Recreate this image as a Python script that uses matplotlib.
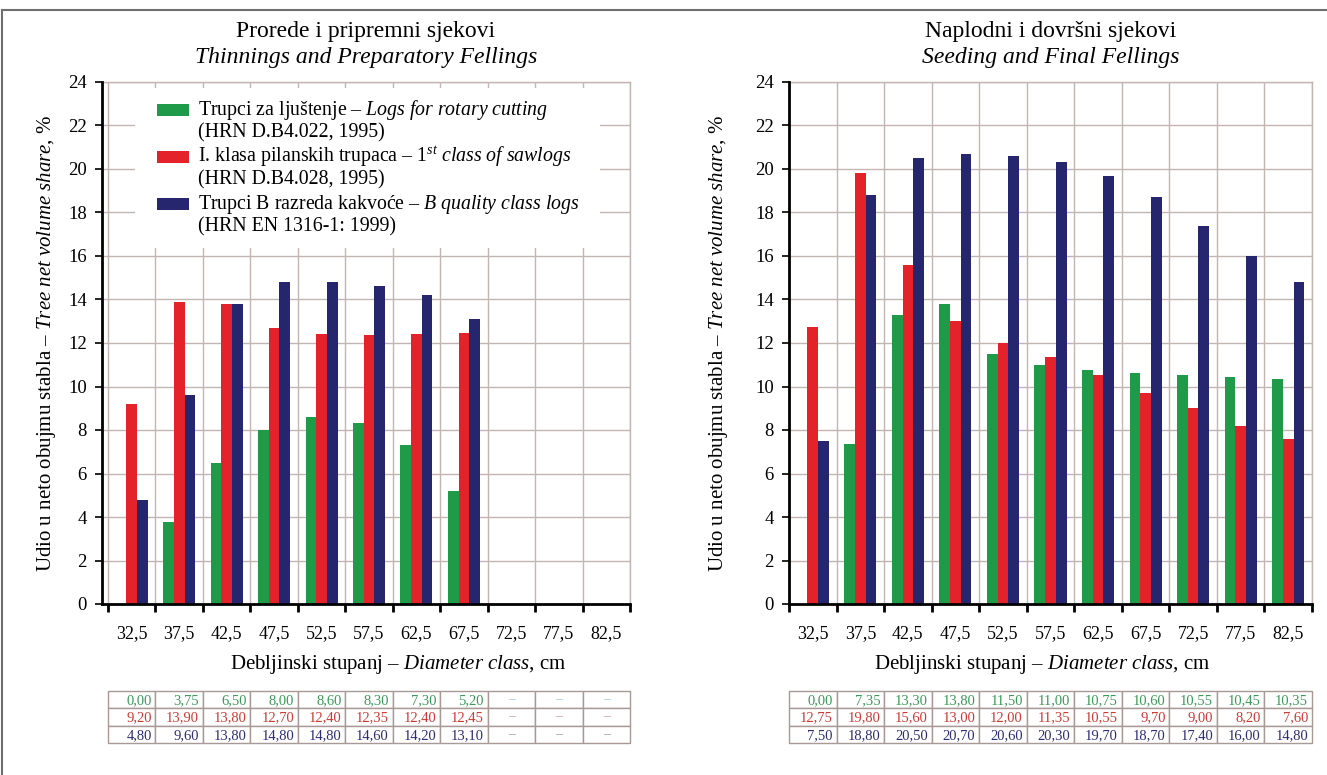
import numpy as np
import matplotlib
matplotlib.use("Agg")
import matplotlib.pyplot as plt
from matplotlib.patches import Rectangle
from matplotlib.lines import Line2D

plt.rcParams['font.family'] = ['Liberation Serif', 'DejaVu Serif']
plt.rcParams['mathtext.fontset'] = 'custom'
plt.rcParams['mathtext.rm'] = 'Liberation Serif'
plt.rcParams['mathtext.it'] = 'Liberation Serif:italic'

# podaci
classes = ["32,5", "37,5", "42,5", "47,5", "52,5", "57,5", "62,5", "67,5", "72,5", "77,5", "82,5"]

thin_rotary = [0.00, 3.75, 6.50, 8.00, 8.60, 8.30, 7.30, 5.20, np.nan, np.nan, np.nan]
thin_sawlog = [9.20, 13.90, 13.80, 12.70, 12.40, 12.35, 12.40, 12.45, np.nan, np.nan, np.nan]
thin_bclass = [4.80, 9.60, 13.80, 14.80, 14.80, 14.60, 14.20, 13.10, np.nan, np.nan, np.nan]

seed_rotary = [0.00, 7.35, 13.30, 13.80, 11.50, 11.00, 10.75, 10.60, 10.55, 10.45, 10.35]
seed_sawlog = [12.75, 19.80, 15.60, 13.00, 12.00, 11.35, 10.55, 9.70, 9.00, 8.20, 7.60]
seed_bclass = [7.50, 18.80, 20.50, 20.70, 20.60, 20.30, 19.70, 18.70, 17.40, 16.00, 14.80]

colors = ["#1f9a49", "#e32229", "#26266f"]
txt_colors = ["#3a9a58", "#cc3a32", "#2c2c78"]
dash_colors = ["#a8c8d8", "#d8a0a0", "#a0a0b8"]
grid_c = "#c2b6b2"

W, H = 1327, 775
fig = plt.figure(figsize=(W / 100, H / 100), dpi=100)


def it(s):
    return "$\\mathit{" + s.replace(" ", "\\ ") + "}$"


def draw_chart(left_px, right_px, xmin, series, title1, title2, ylab_px, xlab_px):
    x = np.arange(len(classes))
    ax = fig.add_axes([left_px / W, 1 - 604 / H, (right_px - left_px) / W, 522 / H])
    w = 0.225
    for k, vals in enumerate(series):
        ax.bar(x + (k - 1) * w, np.array(vals, dtype=float), w, color=colors[k], zorder=3)
    ax.set_xlim(xmin, 10.5)
    ax.set_ylim(0, 24)
    ax.set_yticks(np.arange(0, 25, 2))
    ax.set_xticks(np.arange(-0.5, 11, 1))
    ax.set_xticklabels([])
    ax.set_xticks(x, minor=True)
    ax.set_xticklabels(classes, minor=True)
    ax.tick_params(axis='x', which='minor', length=0, pad=15, labelsize=13)
    ax.tick_params(axis='x', which='major', length=6, width=2)
    ax.tick_params(axis='y', length=5, width=1.2, labelsize=13.5, pad=6)
    ax.grid(True, which='major', color=grid_c, lw=1, zorder=0)
    for s in ["left", "bottom"]:
        ax.spines[s].set_linewidth(2)
        ax.spines[s].set_zorder(5)
    for s in ["top", "right"]:
        ax.spines[s].set_color(grid_c)
        ax.spines[s].set_linewidth(1)
    cx = (left_px + right_px) / 2 / W
    fig.text(cx, 1 - 32 / H, title1, ha='center', va='center', fontsize=17)
    fig.text(cx, 1 - 57 / H, title2, ha='center', va='center', fontsize=17, style='italic')
    fig.text(xlab_px / W, 1 - 664 / H, "Debljinski stupanj – " + it("Diameter class") + ", cm",
             ha='center', va='center', fontsize=15)
    fig.text(ylab_px / W, 1 - 343 / H,
             "Udio u neto obujmu stabla – " + it("Tree net volume share") + ", %",
             ha='center', va='center', rotation=90, fontsize=15)

    # tablica
    tx = fig.add_axes([left_px / W, 1 - 743 / H, (right_px - left_px) / W, 52 / H])
    tx.set_xlim(xmin, 10.5)
    tx.set_ylim(3, 0)
    tx.axis('off')
    for r, vals in enumerate(series):
        for i, v in enumerate(vals):
            tx.add_patch(Rectangle((i - 0.5, r), 1, 1, facecolor='white',
                                   edgecolor="#a89896", lw=1, clip_on=False))
            if np.isnan(v):
                tx.text(i, r + 0.5, "–", ha='center', va='center', fontsize=10,
                        color=dash_colors[r])
            else:
                tx.text(i + 0.42, r + 0.55, f"{v:.2f}".replace(".", ","), ha='right',
                        va='center', fontsize=10.5, color=txt_colors[r])
    return ax


axl = draw_chart(102, 630, -0.626, [thin_rotary, thin_sawlog, thin_bclass],
                 "Prorede i pripremni sjekovi", "Thinnings and Preparatory Fellings", 47, 398)
axr = draw_chart(789, 1312, -0.5, [seed_rotary, seed_sawlog, seed_bclass],
                 "Naplodni i dovršni sjekovi", "Seeding and Final Fellings", 718, 1042)

# legenda
leg_labels = [
    ("Trupci za ljuštenje – " + it("Logs for rotary cutting"), "(HRN D.B4.022, 1995)"),
    ("I. klasa pilanskih trupaca – $\\mathit{1^{st}\\ class\\ of\\ sawlogs}$", "(HRN D.B4.028, 1995)"),
    ("Trupci B razreda kakvoće – " + it("B quality class logs"), "(HRN EN 1316-1: 1999)"),
]
fig.add_artist(Rectangle((135 / W, 1 - 248 / H), 465 / W, 160 / H, transform=fig.transFigure,
                         facecolor='white', edgecolor='none', zorder=4))
for k, (l1, l2) in enumerate(leg_labels):
    yc = 110 + k * 47
    fig.add_artist(Rectangle((157 / W, 1 - (yc + 6) / H), 32 / W, 12 / H,
                             transform=fig.transFigure, facecolor=colors[k],
                             edgecolor='none', zorder=5))
    fig.text(198 / W, 1 - yc / H, l1, ha='left', va='center', fontsize=14.3, zorder=6)
    fig.text(198 / W, 1 - (yc + 23) / H, l2, ha='left', va='center', fontsize=14.3, zorder=6)

# okvir
fig.add_artist(Line2D([2 / W, 1], [1 - 10 / H, 1 - 10 / H], transform=fig.transFigure,
                      color="#6e6e6e", lw=1.5))
fig.add_artist(Line2D([2 / W, 2 / W], [0, 1 - 10 / H], transform=fig.transFigure,
                      color="#6e6e6e", lw=1.5))

fig.savefig("out.png", dpi=100, facecolor='white')
